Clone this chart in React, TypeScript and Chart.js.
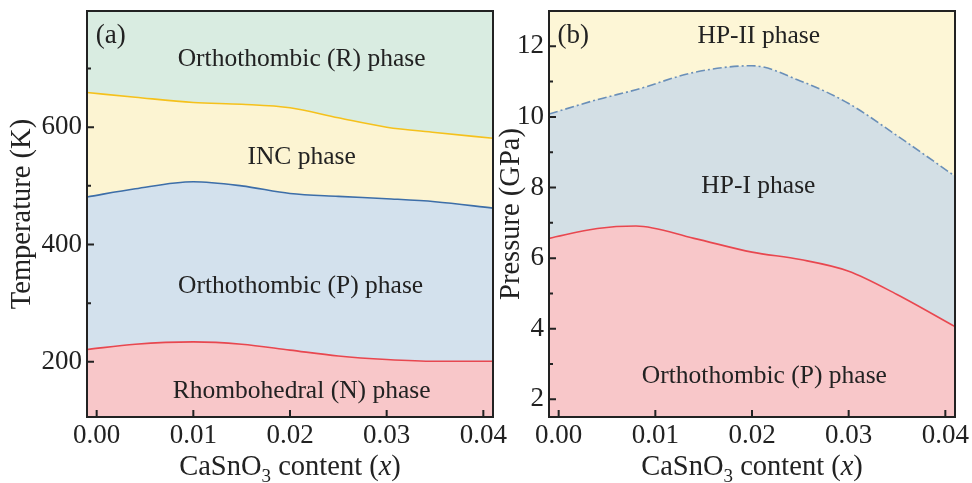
import React, { useEffect, useRef } from "react";
import { Chart, registerables } from "chart.js";

Chart.register(...registerables);

// ---------- data ----------
const xTicks = [0, 0.01, 0.02, 0.03, 0.04];

// panel (a): temperature phase boundaries
const xLeft = [-0.001, 0.004, 0.01, 0.015, 0.02, 0.025, 0.03, 0.035, 0.041];
const tempRhombOrthoP = [221, 230, 234, 230, 220, 210, 204, 201, 201];
const tempOrthoPInc = [481, 495, 507, 500, 487, 482, 478, 473, 462];
const tempIncOrthoR = [659, 651, 642, 639, 633, 616, 600, 591, 581];
const tempMajor = [200, 400, 600];
const tempMinor = [300, 500, 700];

// panel (b): pressure phase boundaries
const xRight = [-0.001, 0.004, 0.008, 0.014, 0.02, 0.025, 0.03, 0.035, 0.041];
const pressOrthoPHP1 = [6.56, 6.84, 6.91, 6.56, 6.17, 5.96, 5.63, 4.97, 4.06];
const pressHP1HP2 = [10.08, 10.49, 10.77, 11.26, 11.45, 11.02, 10.38, 9.47, 8.32];
const pressMajor = [2, 4, 6, 8, 10, 12];
const pressMinor = [3, 5, 7, 9, 11];

const FONT = "'Liberation Serif', 'Times New Roman', serif";
const INK = "#222222";

type Series = { ys: number[]; line: string; fill: string; dash?: number[]; width?: number };
type Label = { text: string; x: number; y: number; align?: CanvasTextAlign; size?: number };

type PanelProps = {
  left: number;
  width: number;
  axisWidth: number;
  padRight: number;
  titlePad: number;
  xs: number[];
  series: Series[];
  bg: string;
  yMin: number;
  yMax: number;
  yMajor: number[];
  yMinor: number[];
  yTitle: string;
  labels: Label[];
};

function Panel(p: PanelProps) {
  const ref = useRef<HTMLCanvasElement>(null);
  useEffect(() => {
    const canvas = ref.current;
    if (!canvas) return;
    const datasets = p.series.map((s, i) => ({
      data: p.xs.map((x, j) => ({ x, y: s.ys[j] })),
      borderColor: s.line,
      borderWidth: s.width ?? 1.6,
      borderDash: s.dash ?? [],
      backgroundColor: s.fill,
      fill: i === 0 ? "start" : "-1",
      pointRadius: 0,
      cubicInterpolationMode: "monotone" as const,
    }));

    const bgPlugin = {
      id: "bgFill",
      beforeDatasetsDraw(chart: any) {
        const { ctx, chartArea: a } = chart;
        ctx.save();
        ctx.fillStyle = p.bg;
        ctx.fillRect(a.left, a.top, a.right - a.left, a.bottom - a.top);
        ctx.restore();
      },
    };

    const framePlugin = {
      id: "frameTicks",
      afterDatasetsDraw(chart: any) {
        const { ctx, chartArea: a, scales } = chart;
        const xs = scales.x;
        const ys = scales.y;
        ctx.save();
        ctx.strokeStyle = INK;
        ctx.lineWidth = 2;
        ctx.beginPath();
        xTicks.forEach((v) => {
          const px = xs.getPixelForValue(v);
          ctx.moveTo(px, a.bottom);
          ctx.lineTo(px, a.bottom - 7);
        });
        p.yMajor.forEach((v) => {
          const py = ys.getPixelForValue(v);
          ctx.moveTo(a.left, py);
          ctx.lineTo(a.left + 7, py);
        });
        p.yMinor.forEach((v) => {
          const py = ys.getPixelForValue(v);
          ctx.moveTo(a.left, py);
          ctx.lineTo(a.left + 4, py);
        });
        ctx.stroke();
        ctx.strokeRect(a.left, a.top, a.right - a.left, a.bottom - a.top);

        // phase labels
        ctx.fillStyle = INK;
        ctx.textBaseline = "alphabetic";
        p.labels.forEach((l) => {
          ctx.font = `${l.size ?? 25.5}px ${FONT}`;
          ctx.textAlign = l.align ?? "center";
          ctx.fillText(l.text, xs.getPixelForValue(l.x), ys.getPixelForValue(l.y));
        });

        // x-axis title with subscript and italic x
        const parts: { t: string; font: string; dy: number }[] = [
          { t: "CaSnO", font: `28.5px ${FONT}`, dy: 0 },
          { t: "3", font: `19px ${FONT}`, dy: 7 },
          { t: " content (", font: `28.5px ${FONT}`, dy: 0 },
          { t: "x", font: `italic 28.5px ${FONT}`, dy: 0 },
          { t: ")", font: `28.5px ${FONT}`, dy: 0 },
        ];
        let total = 0;
        parts.forEach((q) => {
          ctx.font = q.font;
          total += ctx.measureText(q.t).width;
        });
        let cx = (a.left + a.right) / 2 - total / 2;
        const baseY = a.bottom + 58;
        ctx.textAlign = "left";
        parts.forEach((q) => {
          ctx.font = q.font;
          ctx.fillText(q.t, cx, baseY + q.dy);
          cx += ctx.measureText(q.t).width;
        });
        ctx.restore();
      },
    };

    const chart = new Chart(canvas, {
      type: "line",
      data: { datasets: datasets as any },
      options: {
        responsive: false,
        animation: false,
        layout: { padding: { top: 11, right: p.padRight, bottom: 0, left: 0 } },
        plugins: { legend: { display: false }, tooltip: { enabled: false } },
        scales: {
          x: {
            type: "linear",
            min: -0.001,
            max: 0.041,
            grid: { display: false, drawTicks: false },
            border: { display: false },
            afterBuildTicks: (s: any) => {
              s.ticks = xTicks.map((v) => ({ value: v }));
            },
            afterFit: (s: any) => {
              s.height = 66;
              s.paddingLeft = 0;
              s.paddingRight = 0;
            },
            ticks: {
              font: { family: FONT, size: 27 },
              color: INK,
              padding: 3,
              maxRotation: 0,
              autoSkip: false,
              callback: (v: any) => Number(v).toFixed(2),
            },
          },
          y: {
            type: "linear",
            min: p.yMin,
            max: p.yMax,
            grid: { display: false, drawTicks: false },
            border: { display: false },
            afterBuildTicks: (s: any) => {
              s.ticks = p.yMajor.map((v) => ({ value: v }));
            },
            afterFit: (s: any) => {
              s.width = p.axisWidth;
              s.paddingTop = 0;
              s.paddingBottom = 0;
            },
            ticks: {
              font: { family: FONT, size: 27 },
              color: INK,
              padding: 5,
              autoSkip: false,
              callback: (v: any) => String(v),
            },
            title: {
              display: true,
              text: p.yTitle,
              color: INK,
              font: { family: FONT, size: 28.5, lineHeight: 1.2 },
              padding: { top: p.titlePad, bottom: 0 },
            },
          },
        },
      },
      plugins: [bgPlugin, framePlugin],
    });
    return () => chart.destroy();
  }, []);
  return (
    <canvas
      ref={ref}
      width={p.width}
      height={483}
      style={{ position: "absolute", left: p.left, top: 0, width: p.width, height: 483 }}
    />
  );
}

export default function App() {
  return (
    <div
      style={{
        position: "fixed",
        left: 0,
        top: 0,
        width: 972,
        height: 483,
        background: "#ffffff",
        overflow: "hidden",
      }}
    >
      <Panel
        left={0}
        width={510}
        axisWidth={87}
        padRight={17}
        titlePad={5}
        xs={xLeft}
        bg="#d9ece1"
        yMin={106}
        yMax={798}
        yMajor={tempMajor}
        yMinor={tempMinor}
        yTitle="Temperature (K)"
        series={[
          { ys: tempRhombOrthoP, line: "#e8474f", fill: "#f8c7c9" },
          { ys: tempOrthoPInc, line: "#3d6ea8", fill: "#d3e1ed" },
          { ys: tempIncOrthoR, line: "#f5c11c", fill: "#fcf4d2" },
        ]}
        labels={[
          { text: "(a)", x: -0.0001, y: 744, align: "left", size: 27 },
          { text: "Orthothombic (R) phase", x: 0.0212, y: 705 },
          { text: "INC phase", x: 0.0212, y: 538 },
          { text: "Orthothombic (P) phase", x: 0.0211, y: 317 },
          { text: "Rhombohedral (N) phase", x: 0.0212, y: 138 },
        ]}
      />
      <Panel
        left={494}
        width={478}
        axisWidth={55}
        padRight={17}
        titlePad={0}
        xs={xRight}
        bg="#fdf6d6"
        yMin={1.5}
        yMax={13}
        yMajor={pressMajor}
        yMinor={pressMinor}
        yTitle="Pressure (GPa)"
        series={[
          { ys: pressOrthoPHP1, line: "#e8474f", fill: "#f8c7c9" },
          { ys: pressHP1HP2, line: "#6a8fb8", fill: "#d3dfe5", dash: [9, 3, 2, 3] },
        ]}
        labels={[
          { text: "(b)", x: -0.00013, y: 12.1, align: "left", size: 27 },
          { text: "HP-II phase", x: 0.0207, y: 12.1 },
          { text: "HP-I phase", x: 0.02066, y: 7.84 },
          { text: "Orthothombic (P) phase", x: 0.02128, y: 2.47 },
        ]}
      />
    </div>
  );
}
